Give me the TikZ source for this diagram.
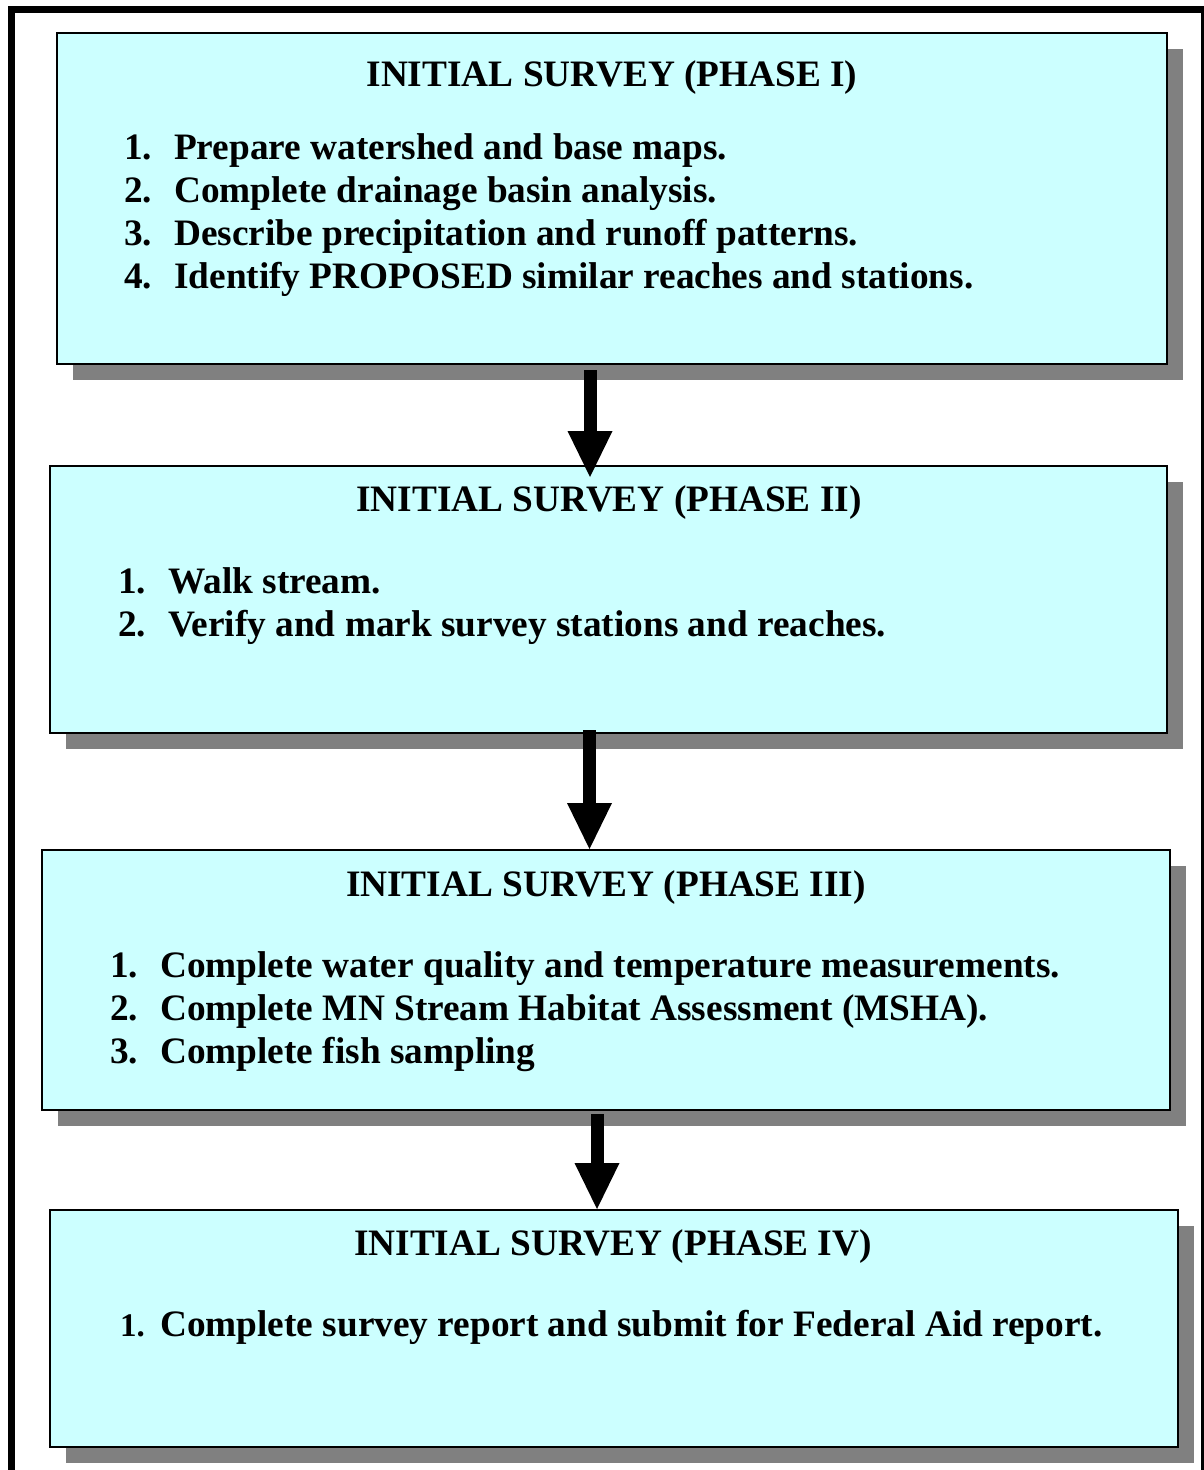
\documentclass[tikz,border=0pt]{standalone}
\usepackage{fontspec}
\setmainfont{Liberation Serif}
\usetikzlibrary{arrows.meta,shadows}
\definecolor{boxcyan}{HTML}{CCFFFF}
\definecolor{shadowgray}{HTML}{808080}
\begin{document}
\begin{tikzpicture}[x=1pt,y=-1pt,
  phasebox/.style={draw=black, line width=2.5pt, fill=boxcyan, anchor=north west, inner sep=0pt, outer sep=0pt,
     drop shadow={shadow xshift=16pt, shadow yshift=-16pt, fill=shadowgray, opacity=1}},
  txt/.style={font=\fontsize{37.3}{36}\selectfont\bfseries, inner sep=0pt, anchor=base west},
  ttl/.style={font=\fontsize{37.3}{36}\selectfont\bfseries, inner sep=0pt, anchor=base},
  flow/.style={line width=13pt, -{Triangle[width=45pt,length=46pt,line width=0pt]}}]
\useasboundingbox (0,0) rectangle (1203,1470);
\draw[line width=7pt] (11.5,9.5) rectangle (1204,1480);
% boxes
\node[phasebox, minimum width=1110pt, minimum height=331pt] (b1) at (57,33) {};
\node[phasebox, minimum width=1117pt, minimum height=267pt] (b2) at (50,466) {};
\node[phasebox, minimum width=1128pt, minimum height=260pt] (b3) at (42,850) {};
\node[phasebox, minimum width=1128pt, minimum height=237pt] (b4) at (50,1210) {};
% box 1 text
\node[ttl] (t1) at (612,86) {INITIAL SURVEY (PHASE I)};
\node[txt] (n11) at (124,159) {1.};
\node[txt] (i11) at (174,159) {Prepare watershed and base maps.};
\node[txt] (n12) at (124,202) {2.};
\node[txt] (i12) at (174,202) {Complete drainage basin analysis.};
\node[txt] (n13) at (124,245) {3.};
\node[txt] (i13) at (174,245) {Describe precipitation and runoff patterns.};
\node[txt] (n14) at (124,288) {4.};
\node[txt] (i14) at (174,288) {Identify PROPOSED similar reaches and stations.};
% box 2 text
\node[ttl] (t2) at (609,511) {INITIAL SURVEY (PHASE II)};
\node[txt] (n21) at (118,593) {1.};
\node[txt] (i21) at (168,593) {Walk stream.};
\node[txt] (n22) at (118,636) {2.};
\node[txt] (i22) at (168,636) {Verify and mark survey stations and reaches.};
% box 3 text
\node[ttl] (t3) at (606,896) {INITIAL SURVEY (PHASE III)};
\node[txt] (n31) at (110,977) {1.};
\node[txt] (i31) at (160,977) {Complete water quality and temperature measurements.};
\node[txt] (n32) at (110,1020) {2.};
\node[txt] (i32) at (160,1020) {Complete MN Stream Habitat Assessment (MSHA).};
\node[txt] (n33) at (110,1063) {3.};
\node[txt] (i33) at (160,1063) {Complete fish sampling};
% box 4 text
\node[ttl] (t4) at (613,1255) {INITIAL SURVEY (PHASE IV)};
\node[txt, font=\fontsize{33}{36}\selectfont\bfseries] (n41) at (120,1336) {1.};
\node[txt] (i41) at (160,1336) {Complete survey report and submit for Federal Aid report.};
% arrows
\coordinate (a1s) at (590,370);
\coordinate (a1e) at (590,477);
\coordinate (a2s) at (589.5,730);
\coordinate (a2e) at (589.5,849);
\coordinate (a3s) at (597,1114);
\coordinate (a3e) at (597,1209);
\draw[flow] (a1s) -- (a1e);
\draw[flow] (a2s) -- (a2e);
\draw[flow] (a3s) -- (a3e);
\end{tikzpicture}
\end{document}
